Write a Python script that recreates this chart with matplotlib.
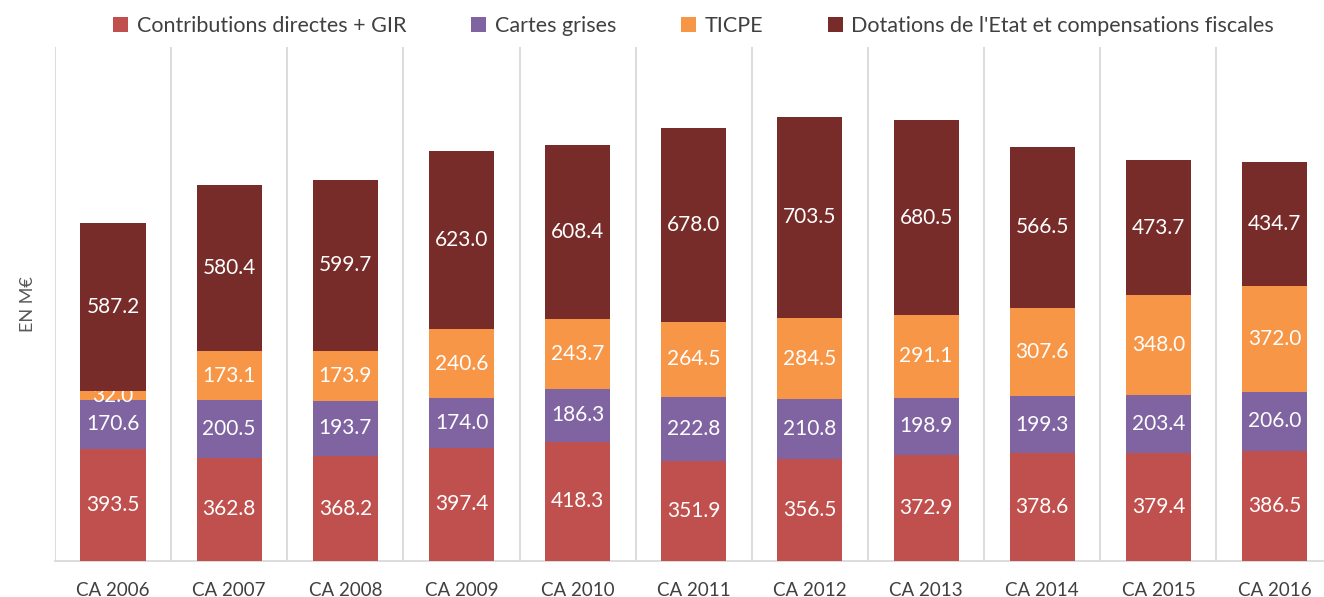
import matplotlib.pyplot as plt

# Set the font
plt.rcParams['font.family'] = ['Lato', 'DejaVu Sans']

# Data
years = ['CA 2006', 'CA 2007', 'CA 2008', 'CA 2009', 'CA 2010', 'CA 2011',
         'CA 2012', 'CA 2013', 'CA 2014', 'CA 2015', 'CA 2016']
contributions = [393.5, 362.8, 368.2, 397.4, 418.3, 351.9, 356.5, 372.9, 378.6, 379.4, 386.5]
cartesGrises = [170.6, 200.5, 193.7, 174.0, 186.3, 222.8, 210.8, 198.9, 199.3, 203.4, 206.0]
ticpe = [32.0, 173.1, 173.9, 240.6, 243.7, 264.5, 284.5, 291.1, 307.6, 348.0, 372.0]
dotations = [587.2, 580.4, 599.7, 623.0, 608.4, 678.0, 703.5, 680.5, 566.5, 473.7, 434.7]

seriesNames = ['Contributions directes + GIR', 'Cartes grises', 'TICPE',
               "Dotations de l'Etat et compensations fiscales"]
seriesColors = ['#C0504D', '#8064A2', '#F79646', '#772C2A']

# Create the figure
fig = plt.figure(figsize=(13.24, 5.97), dpi=100)
ax = fig.add_axes([0.0415, 0.060, 0.965, 0.861])

# Plot the stacked bars
positions = list(range(len(years)))
bottom = [0] * len(years)
for values, name, color in zip([contributions, cartesGrises, ticpe, dotations], seriesNames, seriesColors):
    bars = plt.bar(positions, values, 0.56, bottom=bottom, color=color, label=name, zorder=3)
    plt.bar_label(bars, fmt='%.1f', label_type='center', color='white', fontsize=15)
    bottom = [b + v for b, v in zip(bottom, values)]

# Axes limits and ticks
plt.xlim(-0.5, len(years) - 0.5)
plt.ylim(0, 1800)
plt.xticks(positions, years, fontsize=13.5, color='#404040')
plt.yticks([])
ax.tick_params(axis='x', length=0, pad=15)

# Vertical separators between categories
for x in range(len(years)):
    plt.axvline(x - 0.5, color='#D9D9D9', linewidth=1.3, zorder=1)

# Spines
for side in ['top', 'right', 'left']:
    ax.spines[side].set_visible(False)
ax.spines['bottom'].set_color('#D9D9D9')
ax.spines['bottom'].set_linewidth(1.3)

# Label the y axis
plt.ylabel('EN M€', fontsize=13, color='#595959', labelpad=14)

# Add a legend
plt.legend(loc='lower center', bbox_to_anchor=(0.5, 1.0), ncol=4, frameon=False,
           fontsize=15.5, handlelength=0.7, handleheight=0.7, handletextpad=0.4,
           columnspacing=3.0, labelcolor='#404040', borderaxespad=0.1)

# Save the plot
plt.savefig('out.png', dpi=100)
